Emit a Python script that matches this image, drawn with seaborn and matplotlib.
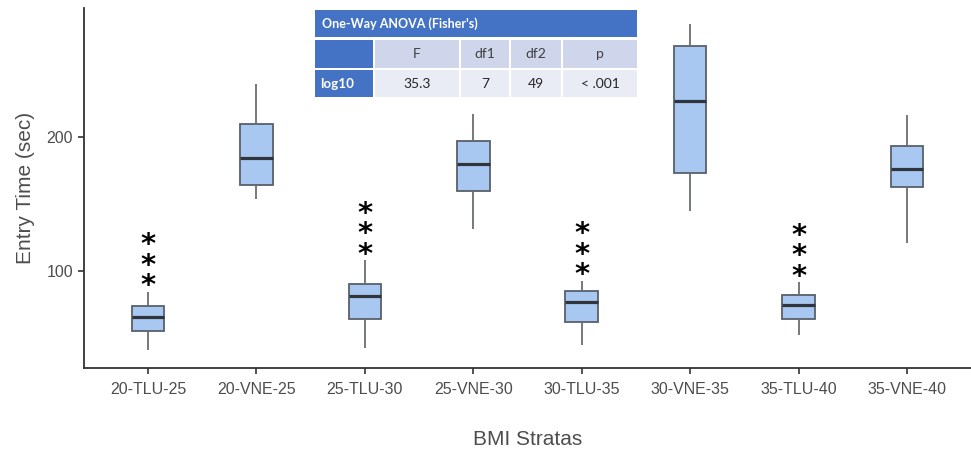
import numpy as np
import pandas as pd
import matplotlib
matplotlib.use("Agg")
import matplotlib.pyplot as plt
from matplotlib.patches import Rectangle
import seaborn as sns

# ---- data ----
groups = ["20-TLU-25", "20-VNE-25", "25-TLU-30", "25-VNE-30",
          "30-TLU-35", "30-VNE-35", "35-TLU-40", "35-VNE-40"]
whisker_low = [41.0, 153.5, 42.5, 131.0, 44.5, 145.0, 52.0, 121.0]
q1 = [55.5, 164.5, 64.0, 160.0, 62.0, 173.5, 64.5, 162.5]
median = [65.5, 184.5, 81.0, 180.0, 77.0, 227.0, 74.5, 176.0]
q3 = [74.0, 210.0, 90.5, 197.0, 85.0, 268.0, 82.0, 193.5]
whisker_high = [84.5, 239.5, 108.0, 217.5, 92.5, 284.5, 91.5, 216.5]
signif = ["***", "", "***", "", "***", "", "***", ""]

anova_title = "One-Way ANOVA (Fisher's)"
anova_cols = ["", "F", "df1", "df2", "p"]
anova_row = ["log10", "35.3", "7", "49", "< .001"]

# long table for seaborn (five summary points per group)
rows = []
for g, a, b, c, d, e in zip(groups, whisker_low, q1, median, q3, whisker_high):
    for v in (a, b, c, d, e):
        rows.append({"BMI Stratas": g, "Entry Time (sec)": v})
df = pd.DataFrame(rows)

sns.set_theme(style="white")
plt.rcParams["font.family"] = ["Liberation Sans", "DejaVu Sans"]

W, H = 971, 450
fig = plt.figure(figsize=(W / 100, H / 100), dpi=100)
ax = fig.add_axes([84 / W, 1 - 367.7 / H, (W - 84) / W, (367.7 - 8) / H])

edge = "#59606a"
sns.boxplot(data=df, x="BMI Stratas", y="Entry Time (sec)", order=groups,
            color="#a9c8f1", linecolor=edge, linewidth=1.3, width=0.3,
            whis=(0, 100), saturation=1, showcaps=False, fliersize=0,
            medianprops=dict(color="#30353c", linewidth=2.3),
            whiskerprops=dict(color="#6a6e74", linewidth=1.3),
            ax=ax)

# significance stars (one stacked text per group)
for i, (s, top) in enumerate(zip(signif, whisker_high)):
    if s:
        ax.annotate("\n".join(s), xy=(i, top), xytext=(0, -6.0),
                    textcoords="offset points", ha="center", va="bottom",
                    fontsize=21, fontweight="bold", color="black",
                    family="DejaVu Sans", linespacing=0.66)

ax.set_xlim(-0.59, 7.59)
ax.set_ylim(27.8, 296.3)
ax.set_yticks([100, 200])

gray_txt = "#4d4d4d"
ax.set_xlabel("BMI Stratas", fontsize=15, color=gray_txt, labelpad=24)
ax.set_ylabel("Entry Time (sec)", fontsize=15, color=gray_txt, labelpad=8)
ax.tick_params(axis="both", labelsize=11.5, labelcolor=gray_txt,
               color="#333333", length=4, width=1.2, direction="out",
               bottom=True, left=True)
ax.tick_params(axis="x", pad=6)
ax.tick_params(axis="y", pad=4)
for side in ("top", "right"):
    ax.spines[side].set_visible(False)
for side in ("left", "bottom"):
    ax.spines[side].set_color("#333333")
    ax.spines[side].set_linewidth(1.3)

# ---- ANOVA table (figure pixel coordinates) ----
def fx(px):
    return px / W

def fy(py):
    return 1 - py / H

blue = "#4472c4"
tfont = ["Lato", "DejaVu Sans"]
col_edges = [(315, 373), (375, 459), (461, 509), (511, 561), (563, 637)]
# title band
fig.add_artist(Rectangle((fx(315), fy(37)), fx(637) - fx(315), fy(10) - fy(37),
                         transform=fig.transFigure, facecolor=blue, edgecolor="none"))
fig.text(fx(322), fy(23.5), anova_title, ha="left", va="center",
         fontsize=9.0, fontweight="bold", color="white", family=tfont)

for r, (y0, y1, fill, cells) in enumerate([(40.5, 68.3, "#cfd5ea", anova_cols),
                                           (70, 97.3, "#e9ebf5", anova_row)]):
    for c, ((x0, x1), txt) in enumerate(zip(col_edges, cells)):
        fc = blue if c == 0 else fill
        fig.add_artist(Rectangle((fx(x0), fy(y1)), fx(x1) - fx(x0), fy(y0) - fy(y1),
                                 transform=fig.transFigure, facecolor=fc, edgecolor="none"))
        if txt:
            if c == 0:
                fig.text(fx(x0 + 5), fy((y0 + y1) / 2), txt, ha="left", va="center",
                         fontsize=9.6, fontweight="bold", color="white", family=tfont)
            else:
                fig.text(fx((x0 + x1) / 2), fy((y0 + y1) / 2), txt, ha="center",
                         va="center", fontsize=10,
                         color="#404040" if r == 0 else "#262626", family=tfont)

fig.savefig("out.png", dpi=100)
